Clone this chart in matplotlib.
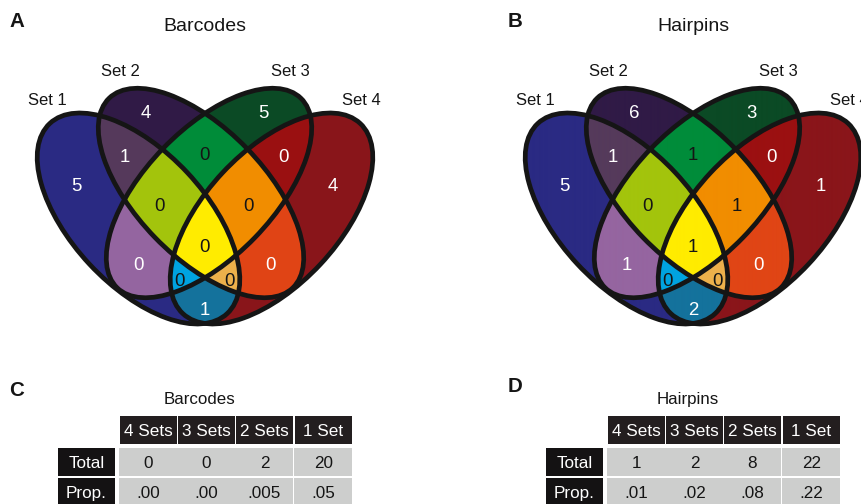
import numpy as np
import matplotlib
matplotlib.use("Agg")
import matplotlib.pyplot as plt
from matplotlib.patches import Ellipse, Rectangle
from matplotlib.colors import to_rgba

plt.rcParams['font.family'] = ['Liberation Sans', 'DejaVu Sans']

# ---------------- data ----------------
set_names = ['Set 1', 'Set 2', 'Set 3', 'Set 4']
region_keys = ['1', '2', '3', '4', '12', '13', '14', '23', '24', '34',
               '123', '124', '134', '234', '1234']
barcodes_counts = [5, 4, 5, 4, 1, 0, 1, 0, 0, 0, 0, 0, 0, 0, 0]
hairpins_counts = [5, 6, 3, 1, 1, 1, 2, 1, 0, 0, 0, 0, 0, 1, 1]

table_cols = ['4 Sets', '3 Sets', '2 Sets', '1 Set']
table_rows = ['Total', 'Prop.']
barcodes_total = [0, 0, 2, 20]
barcodes_prop = ['.00', '.00', '.005', '.05']
hairpins_total = [1, 2, 8, 22]
hairpins_prop = ['.01', '.02', '.08', '.22']

# ---------------- style / layout ----------------
region_colors = {
    '1': '#2A2A83', '2': '#301A46', '3': '#0B4A25', '4': '#8A151A',
    '12': '#553A5B', '13': '#9565A0', '14': '#14729C', '23': '#008C3A',
    '24': '#E04515', '34': '#9B1011', '123': '#A3C40C', '124': '#EDB04B',
    '134': '#00A3E0', '234': '#F18D00', '1234': '#FFEC00'}
dark_text = {'23', '123', '124', '134', '234', '1234'}

# ellipse layout (pixel space of a panel): cx, cy, semi-major, semi-minor, angle
ellipses = [(138.5, 218.5, 130, 67, 47.0),
            (201.0, 193.0, 132, 64, 45.9),
            (209.0, 193.0, 132, 64, 134.1),
            (271.5, 218.5, 130, 67, 133.0)]
set_label_pos = [(47, 99), (120, 70), (290, 70), (361, 99)]
region_label_pos = {
    '1': (76, 184), '2': (146, 111), '3': (263, 111), '4': (333, 184),
    '12': (125, 155), '23': (205, 153), '34': (284, 155),
    '123': (160, 204), '234': (249, 204), '1234': (205, 245),
    '13': (139, 263), '24': (271, 263), '134': (180, 279), '124': (230, 279),
    '14': (205, 308)}

W, H = 862, 504
fig = plt.figure(figsize=(W / 100, H / 100), dpi=100)
ax = fig.add_axes([0, 0, 1, 1])
ax.set_xlim(0, W)
ax.set_ylim(H, 0)
ax.axis('off')


def ctext(x, y, s, fs, **kw):
    """place text with its cap-height centred on y (pixel coordinates)"""
    ax.text(x, y + 0.358 * fs * 100 / 72, s, fontsize=fs, va='baseline', **kw)


# grid for region painting
step = 0.5
gx = np.arange(20, 402, step)
gy = np.arange(70, 342, step)
XX, YY = np.meshgrid(gx, gy)
keymap = np.zeros(XX.shape, dtype=int)
for i, (cx, cy, a, b, ang) in enumerate(ellipses):
    t = np.deg2rad(ang)
    dx, dy = XX - cx, YY - cy
    u = dx * np.cos(t) + dy * np.sin(t)
    v = -dx * np.sin(t) + dy * np.cos(t)
    keymap += ((u / a) ** 2 + (v / b) ** 2 <= 1).astype(int) << i
rgba = np.zeros(XX.shape + (4,))
for k in region_keys:
    bits = sum(1 << (int(c) - 1) for c in k)
    rgba[keymap == bits] = to_rgba(region_colors[k])


def draw_venn(off, title, counts):
    ax.imshow(rgba, extent=(gx[0] + off - step / 2, gx[-1] + off + step / 2,
                            gy[-1] + step / 2, gy[0] - step / 2),
              origin='upper', interpolation='antialiased', zorder=1)
    for cx, cy, a, b, ang in ellipses:
        ax.add_patch(Ellipse((cx + off, cy), 2 * a, 2 * b, angle=ang,
                             fill=False, ec='#151515', lw=3.4, zorder=2))
    for k, n in zip(region_keys, counts):
        x, y = region_label_pos[k]
        ctext(x + off, y, str(n), 13.4, ha='center', zorder=3,
              color='#151515' if k in dark_text else 'white')
    for name, (x, y) in zip(set_names, set_label_pos):
        ctext(x + off, y, name, 12, ha='center', color='#151515')
    ctext(205 + off, 24, title, 14, ha='center', color='#151515')


def draw_table(off, title, totals, props):
    col_left = [120, 178, 236, 295]
    cw, ch = 57, 28
    ctext(200 + off, 397.5, title, 12.2, ha='center', color='#151515')
    for j, c in enumerate(table_cols):
        x = col_left[j] + off
        ax.add_patch(Rectangle((x, 416), cw, ch, fc='#231E1F', ec='none'))
        ctext(x + cw / 2, 416 + ch / 2, c, 12.3, ha='center', color='white')
    rows_y = [448, 478]
    for i, (rname, vals) in enumerate(zip(table_rows, [totals, props])):
        y = rows_y[i]
        ax.add_patch(Rectangle((58 + off, y), cw, ch, fc='#141213', ec='none'))
        ctext(58 + off + cw / 2, y + ch / 2, rname, 12.3, ha='center',
              color='white')
        for j, v in enumerate(vals):
            x = col_left[j] + off
            ax.add_patch(Rectangle((x - 1, y), cw + 1, ch, fc='#CDCECD',
                                   ec='none'))
            ctext(x + cw / 2, y + ch / 2, str(v), 12.3, ha='center',
                  color='#151515')


draw_venn(0, 'Barcodes', barcodes_counts)
draw_venn(488, 'Hairpins', hairpins_counts)
draw_table(0, 'Barcodes', barcodes_total, barcodes_prop)
draw_table(488, 'Hairpins', hairpins_total, hairpins_prop)

for lab, x, y in [('A', 9, 20), ('B', 508, 20), ('C', 9, 389), ('D', 508, 385)]:
    ctext(x, y, lab, 14.8, ha='left', fontweight='bold', color='#151515')

fig.savefig('out.png', dpi=100)
